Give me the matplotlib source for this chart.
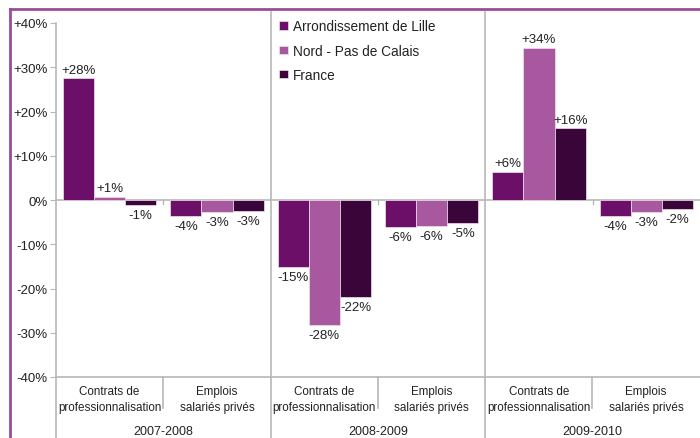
import matplotlib.pyplot as plt
from matplotlib.lines import Line2D
import numpy as np

years = ['2007-2008', '2008-2009', '2009-2010']
categories = ['Contrats de\nprofessionnalisation', 'Emplois\nsalariés privés']
series = ['Arrondissement de Lille', 'Nord - Pas de Calais', 'France']
lille = [27.5, -3.6, -15.1, -6.1, 6.3, -3.6]
nord = [0.7, -2.7, -28.2, -5.9, 34.4, -2.7]
france = [-1.1, -2.5, -21.9, -5.2, 16.2, -2.0]
labels_lille = ['+28%', '-4%', '-15%', '-6%', '+6%', '-4%']
labels_nord = ['+1%', '-3%', '-28%', '-6%', '+34%', '-3%']
labels_france = ['-1%', '-3%', '-22%', '-5%', '+16%', '-2%']
yticks = [-40, -30, -20, -10, 0, 10, 20, 30, 40]

colors = ['#6C0F69', '#A8589F', '#3A0538']
grid_col = '#B8B8B8'
txt_col = '#222222'
plt.rcParams['font.family'] = ['Liberation Sans', 'DejaVu Sans']

W, H = 700, 439
fig = plt.figure(figsize=(7, 4.39), dpi=100)


def fx(px):
    return px / W


def fy(py):
    return 1 - py / H


ax = fig.add_axes([fx(56), fy(378), fx(700 - 56), (378 - 24) / H])
ax.set_xlim(0, 6)
ax.set_ylim(-40, 40)

width = 0.29
x = np.arange(6) + 0.5
for j, (vals, labs) in enumerate(zip([lille, nord, france],
                                     [labels_lille, labels_nord, labels_france])):
    pos = x + (j - 1) * width
    ax.bar(pos, vals, width=width, color=colors[j], edgecolor='#f0e0f0',
           linewidth=0.5, label=series[j], zorder=3)
    for p, v, lab in zip(pos, vals, labs):
        off = 2 if v >= 0 else -3
        ax.annotate(lab, (p, v), xytext=(0, off), textcoords='offset points',
                    ha='center', va='bottom' if v >= 0 else 'top',
                    fontsize=9.5, color=txt_col)

ax.axhline(0, color=grid_col, lw=1.2, zorder=2)
for xb in [1, 3, 5]:
    ax.plot([xb, xb], [0, -1], color=grid_col, lw=1, zorder=2)

for s in ['top', 'right']:
    ax.spines[s].set_visible(False)
ax.spines['left'].set_color(grid_col)
ax.spines['bottom'].set_color(grid_col)
ax.spines['left'].set_linewidth(1.2)
ax.spines['bottom'].set_linewidth(1.2)

ax.set_yticks(yticks)
ax.set_yticklabels([('+' if t > 0 else '') + f'{t}%' for t in yticks],
                   fontsize=9.5, color=txt_col)
ax.tick_params(axis='y', length=4, color=grid_col, pad=2)
ax.set_xticks([])

# category and year labels below the axis
for i in range(6):
    fig.text(fx(56 + 107.3 * (i + 0.5)), fy(400), categories[i % 2],
             ha='center', va='center', fontsize=8.4, color=txt_col, linespacing=1.5)
for k, yr in enumerate(years):
    fig.text(fx(56 + 214.7 * (k + 0.5)), fy(432), yr,
             ha='center', va='center', fontsize=9, color=txt_col)

# separators
fig.add_artist(Line2D([fx(56), fx(56)], [fy(378), 0], color=grid_col, lw=1.2))
for xs in [271, 485]:
    fig.add_artist(Line2D([fx(xs), fx(xs)], [fy(13), 0], color=grid_col, lw=1.2))
for xs in [163, 378, 592]:
    fig.add_artist(Line2D([fx(xs), fx(xs)], [fy(378), fy(409)], color=grid_col, lw=1.2))

# outer frame
fig.add_artist(Line2D([fx(10), fx(10)], [0, fy(10)], color='#9B4C98', lw=2))
fig.add_artist(Line2D([fx(10), 1], [fy(10), fy(10)], color='#9B4C98', lw=2))

ax.legend(loc='upper left', bbox_to_anchor=(fx(274), fy(15)),
          bbox_transform=fig.transFigure, frameon=False, fontsize=9.8,
          handlelength=0.6, handleheight=0.6, handletextpad=0.4,
          labelspacing=0.75, borderaxespad=0, labelcolor=txt_col)

fig.savefig('out.png', dpi=100)
